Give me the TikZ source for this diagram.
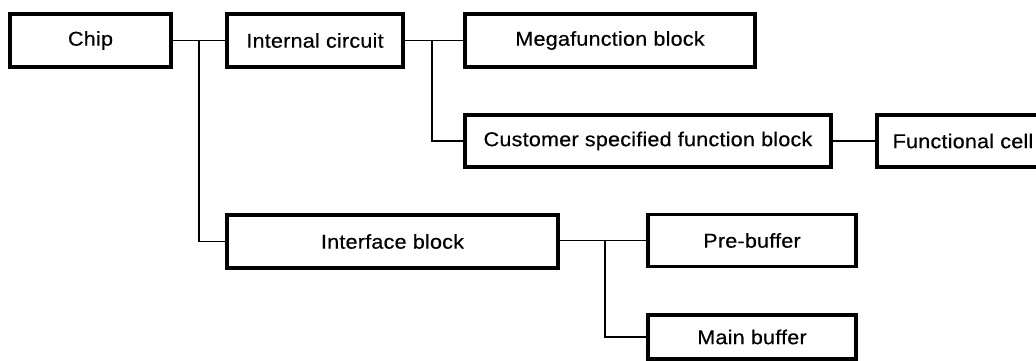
\documentclass[tikz,border=0pt]{standalone}
\usepackage{fontspec}
\newfontfamily\labfont[FakeStretch=1.08,LetterSpace=1,FakeBold=0.4]{Liberation Sans}
\begin{document}
\begin{tikzpicture}[x=1pt,y=-1pt,
  blk/.style={draw=black,line width=3.6pt,rectangle,inner sep=0pt,
    font=\labfont\fontsize{20}{22}\selectfont,text=black},
  conn/.style={draw=black,line width=1.4pt}]
\useasboundingbox (0,0) rectangle (1036,361);
\clip (0,0) rectangle (1036,361);
\node[blk,minimum width=161pt,minimum height=53pt] (chip) at (90.5,40.5) {Chip};
\node[blk,minimum width=176pt,minimum height=53pt] (internal) at (315,40.5) {Internal circuit};
\node[blk,minimum width=290pt,minimum height=53pt] (mega) at (610,40.5) {Megafunction block};
\node[blk,minimum width=366pt,minimum height=52pt] (cust) at (648,141) {Customer specified function block};
\node[blk,minimum width=172pt,minimum height=52pt] (func) at (963,141) {Functional cell};
\node[blk,minimum width=331pt,minimum height=53pt] (iface) at (392.5,241.5) {Interface block};
\node[blk,minimum width=208pt,minimum height=52pt] (pre) at (752,240.5) {Pre-buffer};
\node[blk,minimum width=208pt,minimum height=44pt] (mainb) at (752,337) {Main buffer};
\coordinate (j1) at (199,40.5);
\coordinate (j2) at (432,40.5);
\coordinate (j3) at (605,240.5);
\draw[conn] (chip.east) -- (internal.west);
\draw[conn] (j1) |- (iface.west);
\draw[conn] (internal.east) -- (mega.west);
\draw[conn] (j2) |- (cust.west);
\draw[conn] (cust.east) -- (func.west);
\draw[conn] (iface.east |- pre.west) -- (pre.west);
\draw[conn] (j3) |- (mainb.west);
\end{tikzpicture}
\end{document}
